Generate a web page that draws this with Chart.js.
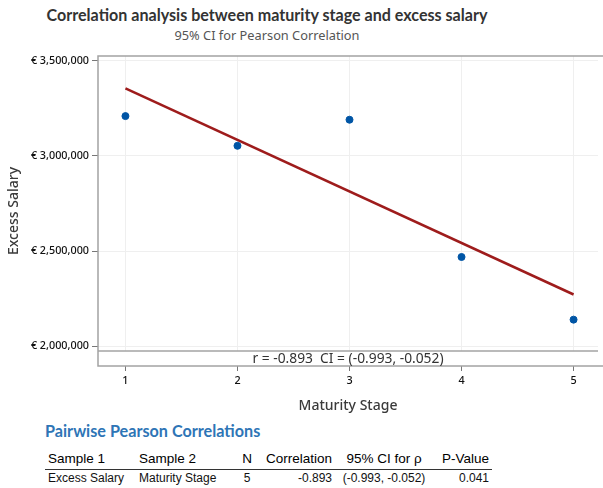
<!DOCTYPE html>
<html>
<head>
<meta charset="utf-8">
<script src="https://cdn.jsdelivr.net/npm/chart.js@4"></script>
<style>
  body { margin: 0; background: #fff; width: 603px; height: 488px; position: relative; overflow: hidden; font-family: "Noto Sans", sans-serif; }
  #wrap { position: absolute; left: 0; top: 0; width: 603px; height: 420px; }
  .title { position: absolute; left: 0; width: 534px; text-align: center; }
  #t1 { top: 5px; font-family: Lato, sans-serif; font-size: 16.1px; font-weight: 700; color: #333; }
  #t2 { top: 26px; font-size: 12.8px; color: #555; }
  #pw { position: absolute; left: 45px; top: 421px; font-family: Lato, sans-serif; font-size: 16.2px; font-weight: 700; color: #2e75b6; }
  .cell { position: absolute; font-family: "Liberation Sans", Arial, sans-serif; color: #111; white-space: nowrap; }
  .hd { top: 451px; font-size: 13.5px; color: #000; }
  .rw { top: 471px; font-size: 12px; }
  #rule { position: absolute; left: 45px; top: 469px; width: 447px; height: 1px; background: #333; }
</style>
</head>
<body>
<div id="t1" class="title">Correlation analysis between maturity stage and excess salary</div>
<div id="t2" class="title">95% CI for Pearson Correlation</div>
<div id="wrap"><canvas id="myChart" width="603" height="420"></canvas></div>
<div id="pw">Pairwise Pearson Correlations</div>
<div id="rule"></div>
<script>
// data
const stages = [1, 2, 3, 4, 5];
const excessSalary = [3209000, 3053000, 3190000, 2469000, 2140000];
const fitX = [1, 5];
const fitY = [3355000, 2272000];
const yTicks = [2000000, 2500000, 3000000, 3500000];
const xTicks = [1, 2, 3, 4, 5];
const annotationText = 'r = -0.893  CI = (-0.993, -0.052)';
const tableHeaders = ['Sample 1', 'Sample 2', 'N', 'Correlation', '95% CI for ρ', 'P-Value'];
const tableRow = ['Excess Salary', 'Maturity Stage', '5', '-0.893', '(-0.993, -0.052)', '0.041'];

// table columns: [anchor x, alignment]
const cols = [[48, 'left'], [139, 'left'], [247, 'center'], [332, 'right'], [384, 'center'], [489, 'right']];
function addCell(text, cls, i) {
  const d = document.createElement('div');
  d.className = 'cell ' + cls;
  d.textContent = text;
  const [x, al] = cols[i];
  if (al === 'left') d.style.left = x + 'px';
  else if (al === 'right') { d.style.right = (603 - x) + 'px'; }
  else { d.style.left = (x - 100) + 'px'; d.style.width = '200px'; d.style.textAlign = 'center'; }
  document.body.appendChild(d);
}
tableHeaders.forEach((t, i) => addCell(t, 'hd', i));
tableRow.forEach((t, i) => addCell(t, 'rw', i));

const frame = {
  id: 'frame',
  afterDraw(chart) {
    const { ctx, chartArea: a } = chart;
    const yb = a.bottom - 15;
    ctx.save();
    ctx.fillStyle = '#fff';
    ctx.fillRect(a.left, yb, a.right - a.left, a.bottom - yb);
    ctx.strokeStyle = '#a3a3a3';
    ctx.lineWidth = 1.5;
    ctx.strokeRect(a.left, a.top, a.right - a.left + 10, a.bottom - a.top);
    ctx.beginPath();
    ctx.moveTo(a.left, yb);
    ctx.lineTo(a.right, yb);
    ctx.stroke();
    ctx.fillStyle = '#333';
    ctx.font = '13.8px "Noto Sans"';
    ctx.textAlign = 'center';
    ctx.textBaseline = 'middle';
    ctx.fillText(annotationText, (a.left + a.right) / 2, yb + 8);
    ctx.restore();
  }
};

const ctx = document.getElementById('myChart');
new Chart(ctx, {
  type: 'scatter',
  data: {
    datasets: [{
      data: stages.map((s, i) => ({ x: s, y: excessSalary[i] })),
      backgroundColor: '#0055a5',
      borderColor: '#0055a5',
      pointRadius: 3.5,
      order: 0
    }, {
      type: 'line',
      data: fitX.map((s, i) => ({ x: s, y: fitY[i] })),
      borderColor: '#9e1c1c',
      borderWidth: 2.5,
      pointRadius: 0,
      order: 1
    }]
  },
  options: {
    responsive: false,
    animation: false,
    layout: { padding: { top: 56, left: 0, right: 0, bottom: 0 } },
    plugins: { legend: { display: false }, tooltip: { enabled: false } },
    scales: {
      x: {
        type: 'linear',
        min: 0.755,
        max: 5.218,
        afterBuildTicks: s => { s.ticks = xTicks.map(v => ({ value: v })); },
        afterFit: s => { s.height = 54; },
        grid: { color: '#efefef', tickColor: '#777', tickLength: 5 },
        border: { display: false },
        ticks: { color: '#111', font: { family: 'Noto Sans', size: 10.8, weight: 500 }, padding: 3 },
        title: { display: true, text: 'Maturity Stage', color: '#3a3a3a', font: { family: 'Noto Sans', size: 14, weight: 500 }, padding: { top: 0, bottom: 6 } }
      },
      y: {
        min: 1896500,
        max: 3524700,
        afterBuildTicks: s => { s.ticks = yTicks.map(v => ({ value: v })); },
        afterFit: s => { s.width = 98; },
        grid: { color: '#efefef', tickColor: '#777', tickLength: 6 },
        border: { display: false },
        ticks: { color: '#111', font: { family: 'Noto Sans', size: 10.8, weight: 500 }, padding: 3, callback: v => '€ ' + v.toLocaleString('en-US') },
        title: { display: true, text: 'Excess Salary', color: '#3a3a3a', font: { family: 'Noto Sans', size: 14, weight: 500 }, padding: { top: 6, bottom: 0 } }
      }
    }
  },
  plugins: [frame]
});
</script>
</body>
</html>
